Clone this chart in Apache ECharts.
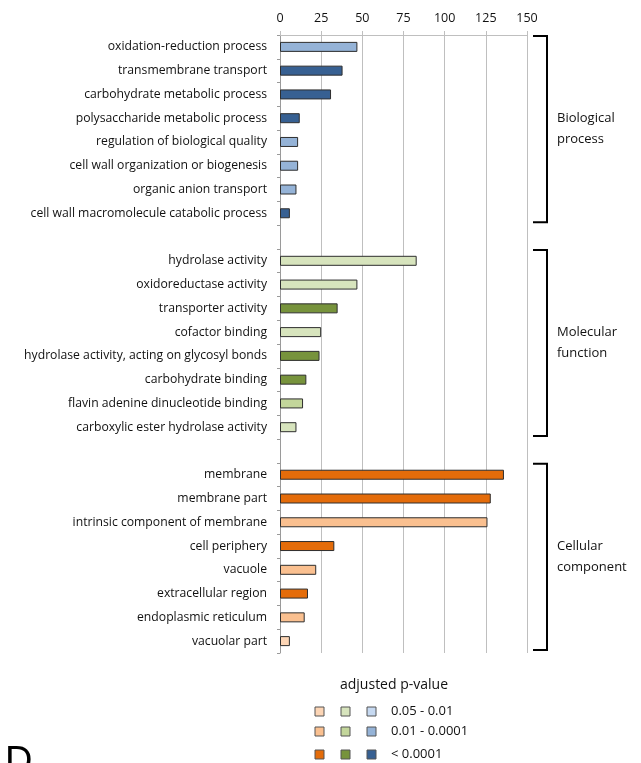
<!DOCTYPE html>
<html><head><meta charset="utf-8">
<script src="https://cdn.jsdelivr.net/npm/echarts@6/dist/echarts.min.js"></script>
<style>html,body{margin:0;padding:0;background:#fff}#c{width:641px;height:763px}</style>
</head><body><div id="c"></div>
<script>
// ---- data ----
const bpLabels = ['oxidation-reduction process','transmembrane transport','carbohydrate metabolic process','polysaccharide metabolic process','regulation of biological quality','cell wall organization or biogenesis','organic anion transport','cell wall macromolecule catabolic process'];
const bpValues = [47, 38, 31, 12, 11, 11, 10, 6];
const bpLevels = [1, 2, 2, 2, 1, 1, 1, 2];

const mfLabels = ['hydrolase activity','oxidoreductase activity','transporter activity','cofactor binding','hydrolase activity, acting on glycosyl bonds','carbohydrate binding','flavin adenine dinucleotide binding','carboxylic ester hydrolase activity'];
const mfValues = [83, 47, 35, 25, 24, 16, 14, 10];
const mfLevels = [0, 0, 2, 0, 2, 2, 1, 0];

const ccLabels = ['membrane','membrane part','intrinsic component of membrane','cell periphery','vacuole','extracellular region','endoplasmic reticulum','vacuolar part'];
const ccValues = [136, 128, 126, 33, 22, 17, 15, 6];
const ccLevels = [2, 2, 1, 2, 1, 2, 1, 0];

const groupNames = ['Biological\nprocess', 'Molecular\nfunction', 'Cellular\ncomponent'];
const legendTitle = 'adjusted p-value';
const legendLabels = ['0.05 - 0.01', '0.01 - 0.0001', '< 0.0001'];
const xMin = 0, xMax = 150, xStep = 25;

// colours per group (blue, green, orange) by level
const bluePal = ['#c6d9f1', '#95b3d7', '#376092'];
const greenPal = ['#d7e4bd', '#c3d69b', '#77933c'];
const orangePal = ['#fcd5b5', '#fac090', '#e46c0a'];

// ---- build ----
const groups = [
  {labels: bpLabels, values: bpValues, levels: bpLevels, pal: bluePal},
  {labels: mfLabels, values: mfValues, levels: mfLevels, pal: greenPal},
  {labels: ccLabels, values: ccValues, levels: ccLevels, pal: orangePal}
];
const cats = [], data = [], ranges = [];
groups.forEach((g, gi) => {
  if (gi > 0) { cats.push(' '.repeat(gi)); data.push(null); }
  const start = cats.length;
  g.labels.forEach((l, i) => {
    cats.push(l);
    data.push({value: g.values[i], itemStyle: {color: g.pal[g.levels[i]]}});
  });
  ranges.push([start, cats.length - 1]);
});

const FONT = 'Open Sans';
const chart = echarts.init(document.getElementById('c'), null, {renderer: 'canvas'});
chart.setOption({
  animation: false,
  grid: {left: 280, right: 114, top: 35, bottom: 110, containLabel: false},
  xAxis: {
    type: 'value', position: 'top', min: xMin, max: xMax, interval: xStep,
    axisLine: {show: true, lineStyle: {color: '#bfbfbf', width: 1}},
    axisTick: {show: true, length: 4, lineStyle: {color: '#bfbfbf'}},
    axisLabel: {color: '#111', fontSize: 12.5, fontFamily: FONT, margin: 10},
    splitLine: {show: true, lineStyle: {color: '#bfbfbf', width: 1}}
  },
  yAxis: {
    type: 'category', inverse: true, data: cats,
    axisLine: {show: true, lineStyle: {color: '#9a9a9a', width: 1}},
    axisTick: {show: true, length: 3, lineStyle: {color: '#9a9a9a'}},
    axisLabel: {color: '#111', fontSize: 12.2, fontFamily: FONT, margin: 13, interval: 0}
  },
  series: [{
    type: 'bar', data: data, barWidth: 10,
    itemStyle: {borderColor: '#2e2e2e', borderWidth: 1}
  }]
});

// ---- annotations: brackets, group names, legend ----
function buildGraphics() {
  const els = [];
  const c0 = chart.convertToPixel({yAxisIndex: 0}, 0);
  const c1 = chart.convertToPixel({yAxisIndex: 0}, 1);
  const band = c1 - c0;
  const xr = chart.convertToPixel({xAxisIndex: 0}, xMax);
  const bx0 = xr + 6, bx1 = xr + 20;
  ranges.forEach((r, gi) => {
    const top = chart.convertToPixel({yAxisIndex: 0}, r[0]) - band / 2 + 1;
    const bot = chart.convertToPixel({yAxisIndex: 0}, r[1]) + band / 2 - 3;
    els.push({type: 'polyline', shape: {points: [[bx0, top], [bx1, top], [bx1, bot], [bx0, bot]]},
      style: {stroke: '#000', lineWidth: 2, fill: null}});
    els.push({type: 'text', x: bx1 + 10, y: (top + bot) / 2,
      style: {text: groupNames[gi], font: '13px ' + FONT, fill: '#111', verticalAlign: 'middle', align: 'left', lineHeight: 21}});
  });
  // legend
  const pals = [orangePal, greenPal, bluePal];
  const colX = [315, 341, 367];
  const rowY = [707, 727, 750];
  els.push({type: 'text', x: 394, y: 685, style: {text: legendTitle, font: '14px ' + FONT, fill: '#111', align: 'center', verticalAlign: 'middle'}});
  legendLabels.forEach((lab, ri) => {
    pals.forEach((p, ci) => {
      els.push({type: 'rect', shape: {x: colX[ci], y: rowY[ri], width: 9, height: 9},
        style: {fill: p[ri], stroke: '#555', lineWidth: 1}});
    });
    els.push({type: 'text', x: 391, y: rowY[ri] + 4.5, style: {text: lab, font: '13px ' + FONT, fill: '#111', verticalAlign: 'middle'}});
  });
  els.push({type: 'text', x: 5, y: 744, style: {text: 'D', font: '38px Liberation Sans', fill: '#000', verticalAlign: 'top'}});
  chart.setOption({graphic: {elements: els}});
}
buildGraphics();
</script>
</body></html>
